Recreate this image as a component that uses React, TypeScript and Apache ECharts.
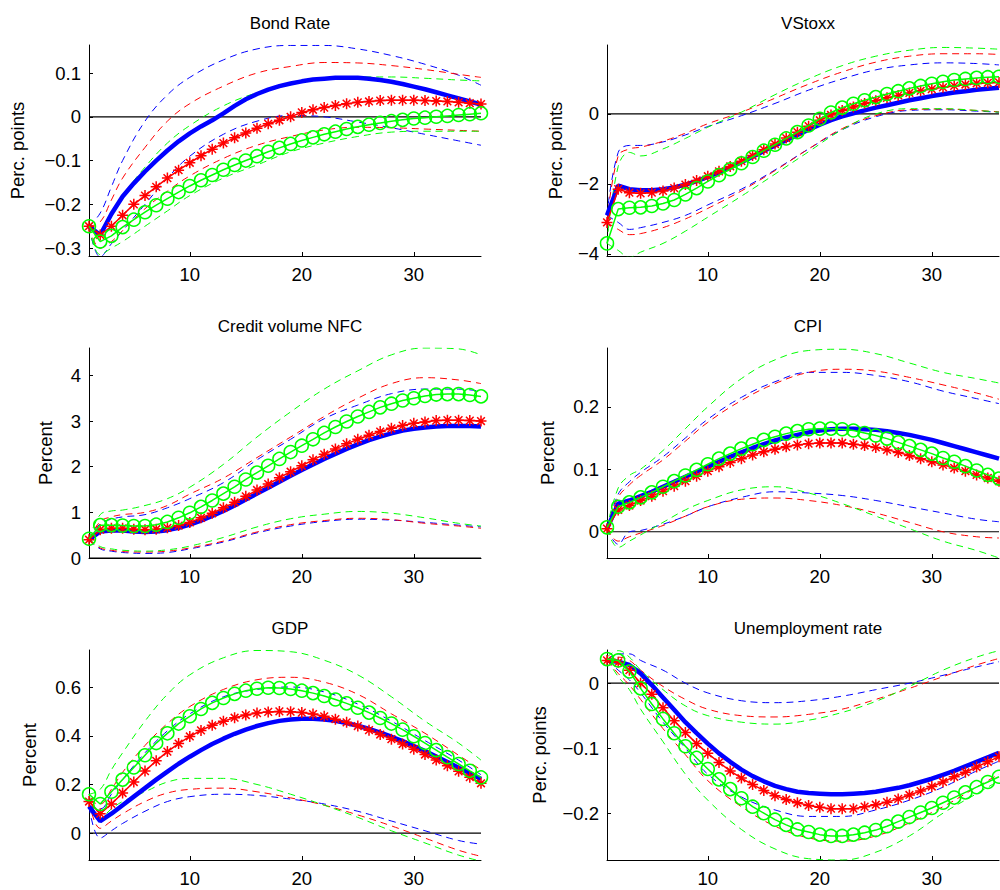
import React, { useEffect, useRef } from "react";
import * as echarts from "echarts";

const X = Array.from({ length: 36 }, (_, i) => i + 1);
const bandX = [1, 2, 3, 4, 6, 8, 10, 13, 16, 19, 22, 25, 28, 31, 34, 36];
const titles = ["Bond Rate", "VStoxx", "Credit volume NFC", "CPI", "GDP", "Unemployment rate"];
const yNames = ["Perc. points", "Perc. points", "Percent", "Percent", "Percent", "Perc. points"];
const yRanges = [[-0.318, 0.164], [-4.06, 1.97], [0, 4.6], [-0.042, 0.294], [-0.11, 0.752], [-0.272, 0.051]];
const yTicks = [[-0.3, -0.2, -0.1, 0, 0.1], [-4, -2, 0], [0, 1, 2, 3, 4], [0, 0.1, 0.2], [0, 0.2, 0.4, 0.6], [-0.2, -0.1, 0]];
const xTicks = [10, 20, 30];

// Bond Rate
const bondBlue = [-0.25,-0.27,-0.222,-0.182,-0.152,-0.125,-0.1,-0.077,-0.056,-0.038,-0.022,-0.008,0.008,0.025,0.04,0.052,0.062,0.07,0.076,0.081,0.085,0.087,0.089,0.089,0.089,0.087,0.084,0.08,0.075,0.069,0.063,0.056,0.049,0.042,0.035,0.028];
const bondRed = [-0.25,-0.27,-0.25,-0.225,-0.2,-0.18,-0.16,-0.14,-0.122,-0.105,-0.089,-0.074,-0.06,-0.048,-0.037,-0.026,-0.016,-0.008,0.0,0.01,0.016,0.021,0.026,0.03,0.033,0.035,0.037,0.038,0.038,0.038,0.037,0.036,0.035,0.033,0.031,0.029];
const bondGreen = [-0.25,-0.285,-0.272,-0.252,-0.235,-0.218,-0.202,-0.187,-0.172,-0.158,-0.145,-0.133,-0.121,-0.11,-0.1,-0.09,-0.08,-0.071,-0.062,-0.054,-0.047,-0.04,-0.034,-0.028,-0.023,-0.018,-0.014,-0.01,-0.007,-0.004,-0.002,0.0,0.002,0.004,0.006,0.008];
const bondBlueUp = [-0.25,-0.22,-0.16,-0.1,-0.01,0.05,0.09,0.13,0.155,0.163,0.163,0.155,0.14,0.12,0.095,0.072];
const bondBlueLo = [-0.25,-0.32,-0.29,-0.26,-0.2,-0.14,-0.09,-0.04,-0.01,0.003,0.0,-0.012,-0.025,-0.04,-0.055,-0.065];
const bondRedUp = [-0.25,-0.24,-0.19,-0.14,-0.07,-0.01,0.03,0.07,0.1,0.115,0.124,0.123,0.117,0.108,0.097,0.09];
const bondRedLo = [-0.25,-0.3,-0.285,-0.26,-0.21,-0.17,-0.135,-0.095,-0.065,-0.045,-0.03,-0.024,-0.025,-0.028,-0.031,-0.033];
const bondGreenUp = [-0.25,-0.26,-0.22,-0.18,-0.115,-0.06,-0.02,0.025,0.055,0.074,0.086,0.091,0.091,0.088,0.084,0.082];
const bondGreenLo = [-0.25,-0.315,-0.3,-0.285,-0.25,-0.215,-0.18,-0.14,-0.11,-0.08,-0.06,-0.045,-0.035,-0.033,-0.033,-0.033];

// VStoxx
const vsBlue = [-2.9,-2.05,-2.15,-2.18,-2.18,-2.15,-2.1,-2.02,-1.92,-1.8,-1.67,-1.53,-1.38,-1.22,-1.06,-0.9,-0.75,-0.6,-0.45,-0.31,-0.18,-0.07,0.02,0.1,0.18,0.25,0.32,0.39,0.45,0.51,0.56,0.61,0.65,0.69,0.72,0.75];
const vsRed = [-3.1,-2.15,-2.25,-2.27,-2.25,-2.2,-2.12,-2.02,-1.9,-1.78,-1.64,-1.5,-1.35,-1.19,-1.02,-0.86,-0.69,-0.52,-0.35,-0.18,-0.03,0.1,0.2,0.3,0.38,0.46,0.53,0.6,0.66,0.71,0.76,0.8,0.84,0.87,0.89,0.9];
const vsGreen = [-3.7,-2.72,-2.68,-2.67,-2.63,-2.56,-2.46,-2.3,-2.12,-1.93,-1.75,-1.58,-1.41,-1.23,-1.05,-0.88,-0.7,-0.52,-0.33,-0.14,0.04,0.18,0.29,0.39,0.48,0.57,0.65,0.73,0.8,0.86,0.92,0.97,1.0,1.03,1.05,1.06];
const vsBlueUp = [-2.9,-1.1,-0.9,-0.9,-0.8,-0.6,-0.36,-0.05,0.3,0.68,1.0,1.26,1.4,1.46,1.44,1.4];
const vsBlueLo = [-2.9,-3.1,-3.3,-3.25,-3.1,-2.9,-2.6,-2.15,-1.6,-1.0,-0.45,-0.08,0.1,0.12,0.08,0.05];
const vsRedUp = [-3.1,-1.2,-1.0,-0.95,-0.78,-0.55,-0.28,0.05,0.45,0.85,1.2,1.48,1.65,1.72,1.72,1.7];
const vsRedLo = [-3.1,-3.3,-3.45,-3.42,-3.25,-3.0,-2.7,-2.2,-1.62,-1.0,-0.42,-0.05,0.12,0.14,0.1,0.06];
const vsGreenUp = [-3.7,-1.5,-1.1,-1.2,-1.0,-0.7,-0.38,0.05,0.55,1.0,1.38,1.65,1.82,1.9,1.88,1.85];
const vsGreenLo = [-3.7,-3.9,-4.1,-3.95,-3.7,-3.35,-2.95,-2.35,-1.72,-1.08,-0.45,0.0,0.15,0.15,0.1,0.05];

// Credit volume NFC
const crBlue = [0.4,0.58,0.6,0.6,0.58,0.57,0.58,0.61,0.66,0.73,0.82,0.92,1.03,1.15,1.28,1.41,1.54,1.67,1.8,1.93,2.05,2.17,2.28,2.39,2.49,2.58,2.66,2.73,2.79,2.83,2.86,2.88,2.89,2.89,2.89,2.88];
const crRed = [0.4,0.62,0.65,0.65,0.63,0.62,0.63,0.66,0.71,0.78,0.88,0.98,1.1,1.22,1.35,1.49,1.62,1.76,1.89,2.02,2.15,2.27,2.39,2.5,2.6,2.69,2.77,2.84,2.9,2.95,2.98,3.01,3.02,3.02,3.01,3.0];
const crGreen = [0.42,0.72,0.72,0.71,0.7,0.7,0.73,0.79,0.88,0.99,1.12,1.26,1.41,1.56,1.72,1.87,2.02,2.17,2.32,2.46,2.6,2.74,2.87,2.99,3.1,3.2,3.3,3.38,3.45,3.5,3.55,3.58,3.59,3.59,3.57,3.54];
const crBlueUp = [0.4,0.75,0.85,0.9,0.95,1.1,1.3,1.65,2.15,2.6,3.05,3.35,3.6,3.7,3.7,3.65];
const crBlueLo = [0.4,0.2,0.15,0.12,0.1,0.12,0.2,0.35,0.55,0.7,0.8,0.85,0.83,0.78,0.72,0.68];
const crRedUp = [0.4,0.8,0.9,0.95,1.0,1.15,1.4,1.75,2.2,2.65,3.1,3.5,3.82,3.95,3.9,3.82];
const crRedLo = [0.4,0.22,0.17,0.14,0.13,0.15,0.22,0.37,0.57,0.73,0.82,0.87,0.84,0.76,0.7,0.65];
const crGreenUp = [0.42,0.95,1.03,1.05,1.15,1.3,1.55,2.05,2.65,3.2,3.7,4.1,4.45,4.6,4.58,4.45];
const crGreenLo = [0.42,0.25,0.2,0.17,0.15,0.18,0.26,0.45,0.68,0.86,0.96,1.02,0.98,0.88,0.76,0.7];

// CPI
const cpiBlue = [0.005,0.045,0.05,0.057,0.064,0.072,0.08,0.088,0.096,0.104,0.112,0.12,0.127,0.134,0.14,0.146,0.151,0.155,0.159,0.162,0.164,0.165,0.165,0.164,0.163,0.161,0.158,0.155,0.151,0.147,0.142,0.137,0.132,0.127,0.122,0.117];
const cpiRed = [0.005,0.035,0.042,0.05,0.057,0.065,0.073,0.081,0.089,0.097,0.104,0.111,0.117,0.123,0.128,0.132,0.136,0.139,0.141,0.142,0.142,0.142,0.14,0.138,0.135,0.131,0.127,0.122,0.117,0.112,0.107,0.102,0.097,0.091,0.086,0.081];
const cpiGreen = [0.007,0.04,0.047,0.055,0.063,0.072,0.081,0.09,0.099,0.108,0.117,0.125,0.133,0.14,0.147,0.152,0.157,0.161,0.164,0.165,0.165,0.164,0.162,0.158,0.154,0.149,0.143,0.137,0.131,0.125,0.118,0.112,0.105,0.098,0.091,0.085];
const cpiBlueUp = [0.005,0.06,0.08,0.095,0.12,0.15,0.18,0.215,0.24,0.255,0.255,0.25,0.24,0.225,0.213,0.205];
const cpiBlueLo = [0.005,-0.02,0.0,0.002,0.012,0.025,0.04,0.055,0.064,0.062,0.058,0.05,0.04,0.03,0.02,0.016];
const cpiRedUp = [0.005,0.055,0.075,0.09,0.115,0.145,0.175,0.21,0.237,0.255,0.26,0.257,0.247,0.235,0.222,0.212];
const cpiRedLo = [0.005,-0.015,-0.008,-0.002,0.01,0.025,0.04,0.052,0.054,0.05,0.042,0.03,0.015,0.0,-0.008,-0.01];
const cpiGreenUp = [0.005,0.07,0.09,0.1,0.13,0.165,0.2,0.245,0.275,0.29,0.292,0.285,0.27,0.255,0.245,0.238];
const cpiGreenLo = [0.005,-0.025,-0.015,-0.005,0.015,0.035,0.05,0.067,0.072,0.062,0.045,0.025,0.005,-0.015,-0.03,-0.042];

// GDP
const gdpBlue = [0.11,0.05,0.08,0.115,0.15,0.185,0.22,0.253,0.285,0.314,0.341,0.366,0.388,0.408,0.425,0.44,0.452,0.461,0.467,0.47,0.47,0.467,0.461,0.452,0.441,0.428,0.413,0.396,0.378,0.358,0.337,0.315,0.292,0.269,0.246,0.222];
const gdpRed = [0.13,0.08,0.12,0.165,0.21,0.255,0.297,0.335,0.368,0.397,0.422,0.443,0.46,0.474,0.485,0.493,0.498,0.5,0.499,0.495,0.489,0.48,0.468,0.455,0.44,0.423,0.405,0.386,0.366,0.345,0.323,0.3,0.277,0.254,0.23,0.205];
const gdpGreen = [0.16,0.12,0.17,0.22,0.27,0.32,0.37,0.41,0.45,0.48,0.51,0.535,0.555,0.572,0.585,0.593,0.597,0.596,0.592,0.585,0.575,0.563,0.549,0.533,0.515,0.495,0.473,0.45,0.425,0.398,0.37,0.341,0.312,0.284,0.256,0.229];
const gdpBlueUp = [0.11,0.1,0.16,0.22,0.33,0.42,0.49,0.56,0.59,0.6,0.58,0.53,0.46,0.38,0.3,0.24];
const gdpBlueLo = [0.11,-0.02,0.01,0.04,0.09,0.13,0.15,0.16,0.155,0.14,0.12,0.09,0.05,0.01,-0.03,-0.045];
const gdpRedUp = [0.13,0.12,0.18,0.25,0.36,0.45,0.52,0.59,0.63,0.64,0.62,0.57,0.49,0.41,0.32,0.26];
const gdpRedLo = [0.13,0.02,0.05,0.08,0.13,0.165,0.18,0.185,0.17,0.145,0.115,0.075,0.03,-0.02,-0.07,-0.095];
const gdpGreenUp = [0.16,0.18,0.26,0.33,0.46,0.57,0.65,0.72,0.75,0.745,0.71,0.65,0.56,0.46,0.37,0.3];
const gdpGreenLo = [0.16,0.06,0.1,0.13,0.17,0.21,0.225,0.225,0.2,0.16,0.115,0.065,0.01,-0.04,-0.09,-0.115];

// Unemployment rate
const unBlue = [0.035,0.033,0.028,0.015,-0.003,-0.022,-0.041,-0.06,-0.077,-0.093,-0.108,-0.121,-0.133,-0.143,-0.151,-0.158,-0.163,-0.167,-0.169,-0.17,-0.171,-0.171,-0.17,-0.169,-0.167,-0.164,-0.161,-0.157,-0.152,-0.147,-0.141,-0.135,-0.128,-0.121,-0.114,-0.107];
const unRed = [0.035,0.032,0.02,0.0,-0.017,-0.038,-0.058,-0.076,-0.093,-0.108,-0.122,-0.135,-0.146,-0.156,-0.165,-0.173,-0.179,-0.184,-0.188,-0.191,-0.193,-0.193,-0.193,-0.19,-0.187,-0.183,-0.178,-0.172,-0.166,-0.159,-0.152,-0.144,-0.137,-0.129,-0.121,-0.113];
const unGreen = [0.037,0.035,0.018,-0.008,-0.032,-0.055,-0.077,-0.097,-0.115,-0.132,-0.148,-0.163,-0.177,-0.19,-0.2,-0.21,-0.218,-0.225,-0.229,-0.233,-0.235,-0.235,-0.233,-0.23,-0.226,-0.22,-0.213,-0.206,-0.199,-0.192,-0.184,-0.176,-0.168,-0.16,-0.152,-0.144];
const unBlueUp = [0.035,0.045,0.045,0.035,0.02,0.0,-0.015,-0.027,-0.03,-0.027,-0.02,-0.01,0.0,0.012,0.025,0.033];
const unBlueLo = [0.035,0.02,0.005,-0.015,-0.06,-0.1,-0.14,-0.175,-0.195,-0.205,-0.205,-0.195,-0.18,-0.16,-0.135,-0.12];
const unRedUp = [0.035,0.04,0.035,0.02,-0.005,-0.025,-0.04,-0.05,-0.052,-0.048,-0.04,-0.025,-0.008,0.01,0.028,0.038];
const unRedLo = [0.035,0.015,-0.003,-0.025,-0.07,-0.11,-0.15,-0.19,-0.22,-0.238,-0.243,-0.235,-0.215,-0.19,-0.16,-0.14];
const unGreenUp = [0.04,0.05,0.04,0.02,-0.01,-0.035,-0.05,-0.06,-0.063,-0.057,-0.045,-0.028,-0.005,0.02,0.04,0.05];
const unGreenLo = [0.037,0.01,-0.01,-0.04,-0.09,-0.14,-0.18,-0.225,-0.255,-0.27,-0.272,-0.26,-0.235,-0.2,-0.17,-0.15];

const panels = [
  [bondBlue, bondRed, bondGreen, bondBlueUp, bondBlueLo, bondRedUp, bondRedLo, bondGreenUp, bondGreenLo],
  [vsBlue, vsRed, vsGreen, vsBlueUp, vsBlueLo, vsRedUp, vsRedLo, vsGreenUp, vsGreenLo],
  [crBlue, crRed, crGreen, crBlueUp, crBlueLo, crRedUp, crRedLo, crGreenUp, crGreenLo],
  [cpiBlue, cpiRed, cpiGreen, cpiBlueUp, cpiBlueLo, cpiRedUp, cpiRedLo, cpiGreenUp, cpiGreenLo],
  [gdpBlue, gdpRed, gdpGreen, gdpBlueUp, gdpBlueLo, gdpRedUp, gdpRedLo, gdpGreenUp, gdpGreenLo],
  [unBlue, unRed, unGreen, unBlueUp, unBlueLo, unRedUp, unRedLo, unGreenUp, unGreenLo],
];

const FONT = "Liberation Sans";
const gridLefts = [89, 607];
const gridTops = [45, 348, 650];
const gridHeights = [211, 210, 210];
const GW = 392;
const nameGaps = [62, 42, 34, 50, 50, 58];
const ASTER = "path://M5,0L5,10M0,5L10,5M1.5,1.5L8.5,8.5M1.5,8.5L8.5,1.5";

function fmt(v: number) {
  const s = String(Math.round(v * 1000) / 1000);
  return s.replace("-", "\u2212");
}

export default function App() {
  const ref = useRef<HTMLDivElement>(null);
  useEffect(() => {
    const chart = echarts.init(ref.current!, null, { renderer: "svg" });
    const grid: any[] = [], xAxis: any[] = [], yAxis: any[] = [], title: any[] = [], series: any[] = [];
    panels.forEach((p, i) => {
      const col = i % 2, row = Math.floor(i / 2);
      const left = gridLefts[col], top = gridTops[row], h = gridHeights[row];
      grid.push({ left, top, width: GW, height: h, containLabel: false });
      title.push({
        text: titles[i], left: left + GW / 2, top: top - 35, textAlign: "center",
        textStyle: { fontFamily: FONT, fontSize: 17, fontWeight: "normal", color: "#000" },
      });
      xAxis.push({
        type: "value", gridIndex: i, min: 1, max: 36,
        axisLine: { show: true, onZero: false, lineStyle: { color: "#000", width: 1 } },
        axisTick: { show: true, inside: true, length: 4, customValues: xTicks, lineStyle: { color: "#000" } },
        axisLabel: { customValues: xTicks, fontFamily: FONT, fontSize: 18.5, color: "#000", margin: 9 },
        splitLine: { show: false },
      });
      yAxis.push({
        type: "value", gridIndex: i, min: yRanges[i][0], max: yRanges[i][1],
        name: yNames[i], nameLocation: "middle", nameGap: nameGaps[i],
        nameTextStyle: { fontFamily: FONT, fontSize: 18.5, color: "#000" },
        axisLine: { show: true, onZero: false, lineStyle: { color: "#000", width: 1 } },
        axisTick: { show: true, inside: true, length: 4, customValues: yTicks[i], lineStyle: { color: "#000" } },
        axisLabel: { customValues: yTicks[i], fontFamily: FONT, fontSize: 18.5, color: "#000", margin: 8, formatter: fmt },
        splitLine: { show: false },
      });
      series.push({
        type: "line", xAxisIndex: i, yAxisIndex: i, data: [[1, 0], [36, 0]], symbol: "none",
        lineStyle: { color: "#000", width: 1.2 }, silent: true, z: 1,
      });
      const bandColors = ["#0000ff", "#0000ff", "#ff0000", "#ff0000", "#00ff00", "#00ff00"];
      for (let b = 0; b < 6; b++) {
        series.push({
          type: "line", xAxisIndex: i, yAxisIndex: i, smooth: 0.4, symbol: "none",
          data: bandX.map((x, k) => [x, p[3 + b][k]]),
          lineStyle: { color: bandColors[b], width: 1, type: [7, 5] }, z: 2,
        });
      }
      series.push({
        type: "line", xAxisIndex: i, yAxisIndex: i, symbol: "none",
        data: X.map((x, k) => [x, p[0][k]]), lineStyle: { color: "#0000ff", width: 4.5 }, z: 3,
      });
      series.push({
        type: "line", xAxisIndex: i, yAxisIndex: i, symbol: ASTER, symbolSize: 11, showSymbol: true,
        data: X.map((x, k) => [x, p[1][k]]), lineStyle: { color: "#ff0000", width: 1.5 },
        itemStyle: { color: "none", borderColor: "#ff0000", borderWidth: 1.5 }, z: 4,
      });
      series.push({
        type: "line", xAxisIndex: i, yAxisIndex: i, symbol: "circle", symbolSize: 13, showSymbol: true,
        data: X.map((x, k) => [x, p[2][k]]), lineStyle: { color: "#00ff00", width: 1.5 },
        itemStyle: { color: "none", borderColor: "#00ff00", borderWidth: 1.5 }, z: 5,
      });
    });
    chart.setOption({ animation: false, backgroundColor: "#fff", grid, xAxis, yAxis, title, series });
    return () => chart.dispose();
  }, []);
  return <div ref={ref} style={{ position: "absolute", left: 0, top: 0, width: 1000, height: 890 }} />;
}
